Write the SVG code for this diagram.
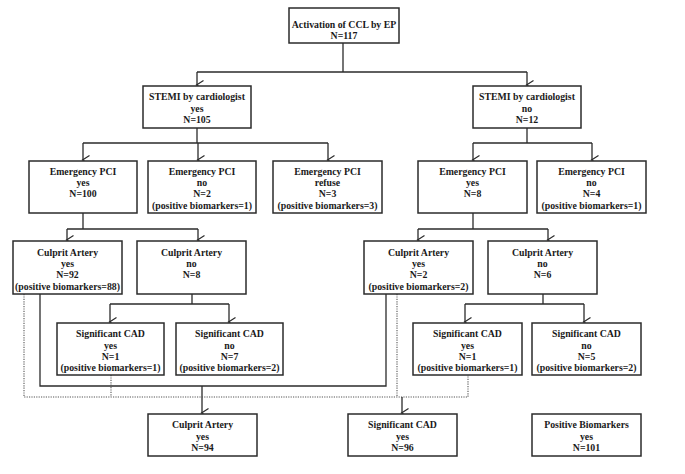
<svg xmlns="http://www.w3.org/2000/svg" width="685" height="474" viewBox="0 0 685 474">
<defs>
<marker id="arr" markerWidth="12" markerHeight="10" refX="5" refY="8" orient="auto-start-reverse" markerUnits="userSpaceOnUse" viewBox="0 0 10 10">
<path d="M0.5,1.5 L5,8.5 L9.5,1.5" fill="none" stroke="#2b2b2b" stroke-width="1.2"/>
</marker>
<style>
.b{fill:#fff;stroke:#2b2b2b;stroke-width:1.5}
.t{font-weight:bold;font-size:9.8px;fill:#1a1a1a;text-anchor:middle}
.c{fill:none;stroke:#2b2b2b;stroke-width:1.3}
.d{fill:none;stroke:#555;stroke-width:1.1;stroke-dasharray:1.2,1.2}
</style>
</defs>
<rect width="685" height="474" fill="#fff"/>
<g id="connectors">
<path class="c" d="M343,43 V72 M197,72 H527 M197,128 V143 M83,143 H328 M527,128 V143 M473,143 H592 M83,213 V229 M67,229 H198 M473,213 V229 M418,229 H548 M192,294 V304 M110,304 H229 M543,294 V304 M465,304 H584"/>
<path class="c" d="M197,72 V85" marker-end="url(#arr)"/>
<path class="c" d="M527,72 V85" marker-end="url(#arr)"/>
<path class="c" d="M83,143 V160" marker-end="url(#arr)"/>
<path class="c" d="M198,143 V160" marker-end="url(#arr)"/>
<path class="c" d="M328,143 V160" marker-end="url(#arr)"/>
<path class="c" d="M473,143 V160" marker-end="url(#arr)"/>
<path class="c" d="M592,143 V160" marker-end="url(#arr)"/>
<path class="c" d="M67,229 V240" marker-end="url(#arr)"/>
<path class="c" d="M198,229 V240" marker-end="url(#arr)"/>
<path class="c" d="M418,229 V240" marker-end="url(#arr)"/>
<path class="c" d="M548,229 V240" marker-end="url(#arr)"/>
<path class="c" d="M110,304 V322" marker-end="url(#arr)"/>
<path class="c" d="M229,304 V322" marker-end="url(#arr)"/>
<path class="c" d="M465,304 V322" marker-end="url(#arr)"/>
<path class="c" d="M584,304 V322" marker-end="url(#arr)"/>
<path class="c" d="M40,294 V386 H386 V294"/>
<path class="c" d="M202,386 V413" marker-end="url(#arr)"/>
<path class="d" d="M24,294 V397 H468 V375 M111,375 V397 M397,294 V397"/>
<path class="c" d="M402,397 V413" marker-end="url(#arr)"/>
</g>
<g font-family="Liberation Serif, Times New Roman, DejaVu Serif, serif">
<g id="n-activation"><rect class="b" x="289" y="8" width="110" height="35"/><text class="t" x="344" y="27.5">Activation of CCL by EP</text><text class="t" x="344" y="38.5">N=117</text></g>
<g id="n-stemi-yes"><rect class="b" x="143" y="86" width="108" height="42"/><text class="t" x="197" y="100">STEMI by cardiologist</text><text class="t" x="197" y="111.5">yes</text><text class="t" x="197" y="123">N=105</text></g>
<g id="n-stemi-no"><rect class="b" x="473" y="86" width="108" height="42"/><text class="t" x="527" y="100">STEMI by cardiologist</text><text class="t" x="527" y="111.5">no</text><text class="t" x="527" y="123">N=12</text></g>
<g id="n-pci-yes-100"><rect class="b" x="29" y="161" width="108" height="52"/><text class="t" x="83" y="175">Emergency PCI</text><text class="t" x="83" y="186">yes</text><text class="t" x="83" y="197">N=100</text></g>
<g id="n-pci-no-2"><rect class="b" x="148" y="161" width="108" height="52"/><text class="t" x="202" y="175">Emergency PCI</text><text class="t" x="202" y="186">no</text><text class="t" x="202" y="197">N=2</text><text class="t" x="202" y="208.5">(positive biomarkers=1)</text></g>
<g id="n-pci-refuse"><rect class="b" x="273" y="161" width="109" height="52"/><text class="t" x="327.5" y="175">Emergency PCI</text><text class="t" x="327.5" y="186">refuse</text><text class="t" x="327.5" y="197">N=3</text><text class="t" x="327.5" y="208.5">(positive biomarkers=3)</text></g>
<g id="n-pci-yes-8"><rect class="b" x="418" y="161" width="109" height="52"/><text class="t" x="472.5" y="175">Emergency PCI</text><text class="t" x="472.5" y="186">yes</text><text class="t" x="472.5" y="197">N=8</text></g>
<g id="n-pci-no-4"><rect class="b" x="537" y="161" width="109" height="52"/><text class="t" x="591.5" y="175">Emergency PCI</text><text class="t" x="591.5" y="186">no</text><text class="t" x="591.5" y="197">N=4</text><text class="t" x="591.5" y="208.5">(positive biomarkers=1)</text></g>
<g id="n-culprit-yes-92"><rect class="b" x="13" y="241" width="109" height="53"/><text class="t" x="67.5" y="255.5">Culprit Artery</text><text class="t" x="67.5" y="267">yes</text><text class="t" x="67.5" y="278">N=92</text><text class="t" x="67.5" y="289.5">(positive biomarkers=88)</text></g>
<g id="n-culprit-no-8"><rect class="b" x="137" y="241" width="109" height="53"/><text class="t" x="191.5" y="255.5">Culprit Artery</text><text class="t" x="191.5" y="267">no</text><text class="t" x="191.5" y="278">N=8</text></g>
<g id="n-culprit-yes-2"><rect class="b" x="364" y="241" width="109" height="53"/><text class="t" x="418.5" y="255.5">Culprit Artery</text><text class="t" x="418.5" y="267">yes</text><text class="t" x="418.5" y="278">N=2</text><text class="t" x="418.5" y="289.5">(positive biomarkers=2)</text></g>
<g id="n-culprit-no-6"><rect class="b" x="488" y="241" width="109" height="53"/><text class="t" x="542.5" y="255.5">Culprit Artery</text><text class="t" x="542.5" y="267">no</text><text class="t" x="542.5" y="278">N=6</text></g>
<g id="n-cad-yes-1a"><rect class="b" x="57" y="323" width="107" height="52"/><text class="t" x="110.5" y="336.5">Significant CAD</text><text class="t" x="110.5" y="348.5">yes</text><text class="t" x="110.5" y="359.5">N=1</text><text class="t" x="110.5" y="370.5">(positive biomarkers=1)</text></g>
<g id="n-cad-no-7"><rect class="b" x="176" y="323" width="107" height="52"/><text class="t" x="229.5" y="336.5">Significant CAD</text><text class="t" x="229.5" y="348.5">no</text><text class="t" x="229.5" y="359.5">N=7</text><text class="t" x="229.5" y="370.5">(positive biomarkers=2)</text></g>
<g id="n-cad-yes-1b"><rect class="b" x="413" y="323" width="109" height="52"/><text class="t" x="467.5" y="336.5">Significant CAD</text><text class="t" x="467.5" y="348.5">yes</text><text class="t" x="467.5" y="359.5">N=1</text><text class="t" x="467.5" y="370.5">(positive biomarkers=1)</text></g>
<g id="n-cad-no-5"><rect class="b" x="532" y="323" width="109" height="52"/><text class="t" x="586.5" y="336.5">Significant CAD</text><text class="t" x="586.5" y="348.5">no</text><text class="t" x="586.5" y="359.5">N=5</text><text class="t" x="586.5" y="370.5">(positive biomarkers=2)</text></g>
<g id="n-total-culprit"><rect class="b" x="148" y="414" width="109" height="42"/><text class="t" x="202.5" y="427.5">Culprit Artery</text><text class="t" x="202.5" y="439.5">yes</text><text class="t" x="202.5" y="450.5">N=94</text></g>
<g id="n-total-cad"><rect class="b" x="348" y="414" width="109" height="42"/><text class="t" x="402.5" y="427.5">Significant CAD</text><text class="t" x="402.5" y="439.5">yes</text><text class="t" x="402.5" y="450.5">N=96</text></g>
<g id="n-total-biomarkers"><rect class="b" x="532" y="414" width="109" height="42"/><text class="t" x="586.5" y="427.5">Positive Biomarkers</text><text class="t" x="586.5" y="439.5">yes</text><text class="t" x="586.5" y="450.5">N=101</text></g>
</g>
</svg>
